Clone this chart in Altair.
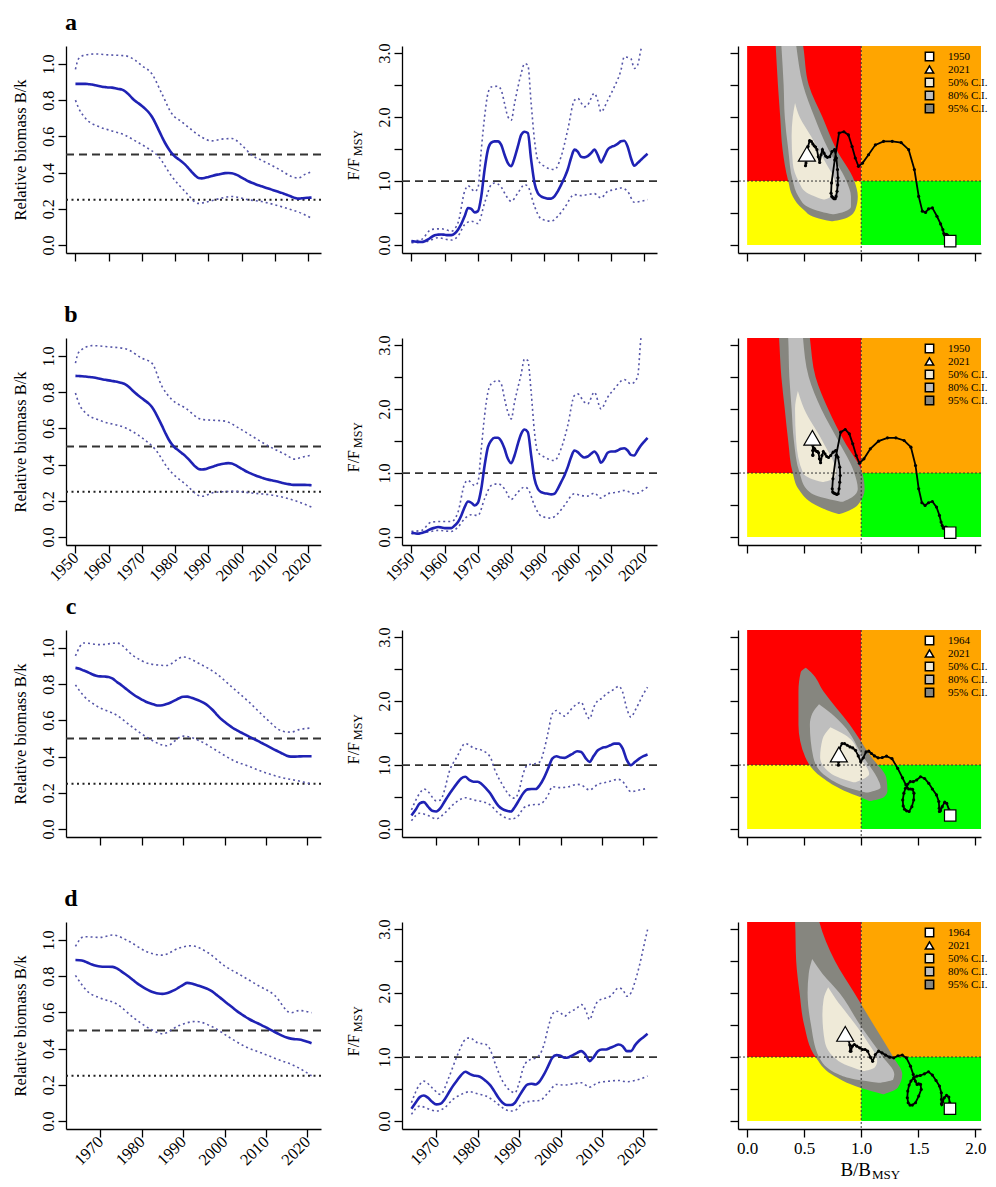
import altair as alt
import pandas as pd

FONT = "Liberation Serif"
BLUE = "#1f22b4"
CI_BLUE = "#5656a8"

PANEL_LETTERS = ["a", "b", "c", "d"]
Y_TITLE = "Relative biomass B/k"
F_TITLE = ["F/F", "MSY"]
KOBE_TITLE = ["B/B", "MSY"]
CI_KEYS = ["50% C.I.", "80% C.I.", "95% C.I."]
CI_FILLS = ["#efead8", "#bebebe", "#86867f"]
LAST_YEAR = 2021
START_YEARS = [1950, 1950, 1964, 1964]
B_LIMITS = [0.5, 0.25]
F_LIMIT = 1.0
KOBE_REF = 1.0
BMSY_OVER_K = 0.5

AB_YEAR_TICKS = [1950, 1960, 1970, 1980, 1990, 2000, 2010, 2020]
CD_YEAR_TICKS = [1970, 1980, 1990, 2000, 2010, 2020]
BK_TICKS = [0.0, 0.2, 0.4, 0.6, 0.8, 1.0]
F_TICKS = [0.0, 0.5, 1.0, 1.5, 2.0, 2.5, 3.0]
KOBE_X_TICKS = [0.0, 0.5, 1.0, 1.5, 2.0]

# Kobe quadrants
QUAD_X0 = [0, 1, 0, 1]
QUAD_X1 = [1, 9, 1, 9]
QUAD_Y0 = [1, 1, 0, 0]
QUAD_Y1 = [9, 9, 1, 1]
QUAD_COLORS = ["#ff0000", "#ffa500", "#ffff00", "#00ff00"]

# ---------------- row a ----------------
A_BK = [0.890, 0.890, 0.890, 0.890, 0.888, 0.886, 0.882, 0.878, 0.874, 0.872,
        0.870, 0.869, 0.866, 0.862, 0.858, 0.848, 0.832, 0.812, 0.795, 0.782,
        0.768, 0.752, 0.733, 0.708, 0.675, 0.636, 0.598, 0.562, 0.532, 0.506,
        0.488, 0.474, 0.460, 0.444, 0.424, 0.403, 0.384, 0.370, 0.368, 0.371,
        0.376, 0.381, 0.386, 0.390, 0.394, 0.397, 0.398, 0.396, 0.391, 0.383,
        0.372, 0.362, 0.352, 0.344, 0.337, 0.330, 0.324, 0.318, 0.312, 0.306,
        0.300, 0.294, 0.288, 0.281, 0.274, 0.267, 0.260, 0.256, 0.258, 0.260,
        0.261, 0.262]
A_F = [0.062, 0.055, 0.050, 0.047, 0.060, 0.088, 0.125, 0.155, 0.163, 0.166,
       0.160, 0.155, 0.155, 0.180, 0.240, 0.330, 0.450, 0.580, 0.565, 0.510,
       0.530, 0.760, 1.180, 1.490, 1.600, 1.620, 1.620, 1.565, 1.410, 1.280,
       1.230, 1.360, 1.540, 1.720, 1.770, 1.750, 1.330, 0.970, 0.810, 0.760,
       0.740, 0.725, 0.725, 0.760, 0.840, 0.940, 1.050, 1.180, 1.360, 1.490,
       1.460, 1.380, 1.370, 1.390, 1.435, 1.490, 1.410, 1.290, 1.380, 1.490,
       1.530, 1.550, 1.580, 1.620, 1.630, 1.540, 1.360, 1.240, 1.280, 1.330,
       1.380, 1.425]
A_BK_HI = [(1950, 0.97), (1951, 1.03), (1953, 1.05), (1956, 1.055), (1960, 1.05), (1965, 1.045),
           (1968, 1.02), (1970, 0.99), (1973, 0.945), (1976, 0.835), (1979, 0.725), (1982, 0.68),
           (1985, 0.635), (1988, 0.595), (1991, 0.575), (1994, 0.585), (1997, 0.588), (2000, 0.552),
           (2003, 0.496), (2006, 0.468), (2009, 0.44), (2012, 0.41), (2015, 0.378), (2017, 0.37),
           (2019, 0.39), (2021, 0.405)]
A_BK_LO = [(1950, 0.80), (1951, 0.755), (1953, 0.70), (1957, 0.654), (1961, 0.63), (1965, 0.606),
           (1968, 0.575), (1971, 0.543), (1975, 0.488), (1979, 0.378), (1983, 0.295), (1987, 0.23),
           (1990, 0.24), (1993, 0.255), (1997, 0.268), (2002, 0.25), (2006, 0.24), (2010, 0.222),
           (2014, 0.20), (2018, 0.175), (2021, 0.148)]
A_F_HI = [(1950, 0.062), (1953, 0.088), (1956, 0.244), (1959, 0.254), (1962, 0.218), (1964, 0.347),
          (1966, 0.839), (1967, 0.927), (1969, 0.839), (1970, 0.891), (1971, 1.487), (1972, 2.005),
          (1973, 2.368), (1974, 2.47), (1976, 2.48), (1977, 2.42), (1978, 2.21), (1979, 2.005),
          (1980, 1.95), (1981, 2.21), (1983, 2.68), (1984, 2.834), (1985, 2.81), (1986, 2.21),
          (1987, 1.64), (1988, 1.33), (1990, 1.23), (1993, 1.18), (1995, 1.38), (1997, 1.80),
          (1999, 2.26), (2000, 2.29), (2002, 2.16), (2003, 2.19), (2005, 2.37), (2006, 2.26),
          (2007, 2.08), (2009, 2.26), (2011, 2.47), (2013, 2.73), (2014, 2.94), (2016, 2.91),
          (2017, 2.76), (2018, 2.81), (2019, 3.05), (2020, 3.2), (2021, 3.15)]
A_F_LO = [(1950, 0.036), (1955, 0.062), (1958, 0.114), (1962, 0.078), (1964, 0.14), (1966, 0.32),
          (1968, 0.373), (1970, 0.337), (1972, 0.658), (1974, 0.943), (1975, 0.969), (1977, 0.907),
          (1978, 0.813), (1980, 0.684), (1982, 0.813), (1984, 0.943), (1985, 0.917), (1987, 0.606),
          (1989, 0.409), (1992, 0.373), (1994, 0.45), (1996, 0.58), (1999, 0.788), (2001, 0.772),
          (2003, 0.788), (2005, 0.803), (2007, 0.736), (2009, 0.839), (2011, 0.865), (2013, 0.891),
          (2015, 0.839), (2017, 0.668), (2019, 0.684), (2021, 0.71)]
# Kobe contours: (F/Fmsy, B/Bmsy left, B/Bmsy right)
A_C95 = [(3.4, 0.24, 0.46), (3.12, 0.25, 0.49), (2.5, 0.27, 0.54), (2.0, 0.29, 0.66), (1.5, 0.31, 0.78),
         (1.0, 0.36, 0.94), (0.76, 0.40, 0.97), (0.56, 0.49, 0.95), (0.43, 0.60, 0.88), (0.37, 0.74, 0.75)]
A_C80 = [(3.4, 0.29, 0.41), (3.12, 0.30, 0.43), (2.5, 0.32, 0.49), (2.0, 0.33, 0.59), (1.5, 0.36, 0.71),
         (1.0, 0.40, 0.87), (0.76, 0.45, 0.91), (0.6, 0.53, 0.91), (0.52, 0.65, 0.85), (0.48, 0.75, 0.76)]
A_C50 = [(2.22, 0.42, 0.42), (2.0, 0.40, 0.46), (1.7, 0.39, 0.56), (1.28, 0.40, 0.69), (1.0, 0.45, 0.77),
         (0.82, 0.52, 0.78), (0.74, 0.62, 0.72), (0.71, 0.67, 0.68)]

# ---------------- row b ----------------
B_BK = [0.890, 0.889, 0.888, 0.886, 0.884, 0.882, 0.879, 0.875, 0.871, 0.868,
        0.865, 0.862, 0.859, 0.855, 0.850, 0.843, 0.830, 0.812, 0.795, 0.780,
        0.766, 0.752, 0.738, 0.718, 0.688, 0.652, 0.615, 0.576, 0.540, 0.512,
        0.492, 0.478, 0.463, 0.448, 0.430, 0.410, 0.390, 0.376, 0.373, 0.375,
        0.381, 0.387, 0.393, 0.399, 0.403, 0.406, 0.408, 0.406, 0.398, 0.388,
        0.377, 0.366, 0.357, 0.349, 0.341, 0.334, 0.328, 0.322, 0.317, 0.313,
        0.309, 0.305, 0.300, 0.296, 0.292, 0.289, 0.288, 0.288, 0.288, 0.288,
        0.287, 0.286]
B_F = [0.068, 0.060, 0.052, 0.065, 0.078, 0.105, 0.130, 0.145, 0.156, 0.150,
       0.140, 0.140, 0.140, 0.180, 0.234, 0.338, 0.468, 0.556, 0.536, 0.494,
       0.536, 0.754, 1.118, 1.404, 1.508, 1.550, 1.550, 1.498, 1.378, 1.222,
       1.154, 1.274, 1.456, 1.612, 1.680, 1.638, 1.274, 0.910, 0.754, 0.702,
       0.686, 0.676, 0.666, 0.676, 0.754, 0.858, 0.962, 1.092, 1.248, 1.352,
       1.326, 1.274, 1.243, 1.258, 1.300, 1.336, 1.274, 1.160, 1.222, 1.316,
       1.336, 1.336, 1.352, 1.378, 1.388, 1.352, 1.284, 1.274, 1.352, 1.430,
       1.492, 1.550]
B_BK_HI = [(1950, 0.96), (1951, 1.02), (1955, 1.057), (1960, 1.05), (1965, 1.04), (1970, 0.987),
           (1973, 0.96), (1976, 0.832), (1979, 0.759), (1983, 0.713), (1988, 0.649), (1991, 0.645),
           (1995, 0.64), (1999, 0.603), (2003, 0.558), (2008, 0.503), (2013, 0.457), (2016, 0.43),
           (2018, 0.44), (2021, 0.452)]
B_BK_LO = [(1950, 0.795), (1951, 0.74), (1953, 0.686), (1958, 0.64), (1965, 0.603), (1970, 0.548),
           (1974, 0.484), (1978, 0.375), (1983, 0.293), (1988, 0.225), (1992, 0.247), (1998, 0.252),
           (2003, 0.243), (2010, 0.229), (2016, 0.201), (2021, 0.165)]
B_F_HI = [(1950, 0.088), (1953, 0.104), (1956, 0.234), (1959, 0.244), (1962, 0.244), (1964, 0.39),
          (1966, 0.832), (1967, 0.884), (1969, 0.806), (1970, 0.858), (1971, 1.378), (1972, 1.898),
          (1973, 2.262), (1974, 2.392), (1976, 2.444), (1977, 2.392), (1978, 2.158), (1979, 1.95),
          (1980, 1.846), (1981, 2.106), (1983, 2.548), (1984, 2.782), (1985, 2.756), (1986, 2.262),
          (1987, 1.638), (1988, 1.326), (1990, 1.248), (1993, 1.196), (1995, 1.378), (1997, 1.742),
          (1999, 2.21), (2000, 2.236), (2002, 2.106), (2003, 2.08), (2005, 2.262), (2007, 2.002),
          (2009, 2.184), (2011, 2.314), (2014, 2.46), (2016, 2.392), (2018, 2.5), (2019, 3.1),
          (2020, 3.3), (2021, 3.3)]
B_F_LO = [(1950, 0.052), (1955, 0.078), (1958, 0.104), (1962, 0.088), (1964, 0.156), (1966, 0.286),
          (1968, 0.348), (1970, 0.338), (1972, 0.598), (1974, 0.806), (1976, 0.832), (1978, 0.754),
          (1980, 0.588), (1982, 0.702), (1984, 0.78), (1985, 0.754), (1987, 0.494), (1989, 0.328),
          (1992, 0.296), (1994, 0.364), (1996, 0.494), (1999, 0.676), (2001, 0.65), (2003, 0.64),
          (2005, 0.686), (2007, 0.608), (2009, 0.676), (2012, 0.702), (2014, 0.728), (2017, 0.676),
          (2021, 0.78)]
B_C95 = [(3.4, 0.27, 0.53), (3.11, 0.28, 0.55), (2.5, 0.30, 0.60), (2.0, 0.33, 0.71), (1.5, 0.36, 0.85),
         (1.0, 0.40, 1.01), (0.75, 0.45, 1.03), (0.5, 0.60, 0.97), (0.42, 0.70, 0.90), (0.36, 0.80, 0.81)]
B_C80 = [(3.4, 0.35, 0.48), (3.11, 0.36, 0.49), (2.5, 0.37, 0.54), (2.0, 0.39, 0.65), (1.5, 0.41, 0.80),
         (1.0, 0.46, 0.94), (0.75, 0.52, 0.97), (0.62, 0.65, 0.92), (0.55, 0.82, 0.84)]
B_C50 = [(2.28, 0.445, 0.445), (2.0, 0.42, 0.50), (1.5, 0.43, 0.66), (1.0, 0.49, 0.78),
         (0.92, 0.55, 0.76), (0.86, 0.66, 0.67)]

# ---------------- row c ----------------
C_BK = [0.890, 0.885, 0.875, 0.866, 0.855, 0.847, 0.843, 0.842, 0.840, 0.830,
        0.812, 0.796, 0.778, 0.760, 0.743, 0.728, 0.715, 0.703, 0.694, 0.687,
        0.682, 0.684, 0.690, 0.699, 0.710, 0.722, 0.730, 0.731, 0.725, 0.717,
        0.708, 0.696, 0.681, 0.660, 0.635, 0.611, 0.592, 0.574, 0.558, 0.545,
        0.533, 0.521, 0.509, 0.498, 0.487, 0.475, 0.463, 0.451, 0.439, 0.427,
        0.416, 0.405, 0.400, 0.400, 0.401, 0.402, 0.402, 0.402]
C_F = [0.212, 0.300, 0.400, 0.420, 0.350, 0.285, 0.274, 0.326, 0.430, 0.533,
       0.626, 0.714, 0.790, 0.817, 0.766, 0.740, 0.740, 0.700, 0.636, 0.560,
       0.455, 0.362, 0.310, 0.285, 0.274, 0.350, 0.455, 0.560, 0.620, 0.626,
       0.626, 0.688, 0.800, 0.947, 1.100, 1.138, 1.117, 1.112, 1.143, 1.180,
       1.216, 1.205, 1.112, 1.050, 1.143, 1.230, 1.267, 1.283, 1.309, 1.335,
       1.335, 1.257, 1.076, 0.998, 1.050, 1.100, 1.138, 1.164]
C_BK_HI = [(1964, 0.956), (1966, 1.027), (1970, 1.018), (1974, 1.027), (1978, 0.956), (1982, 0.912),
           (1986, 0.903), (1990, 0.95), (1994, 0.912), (1998, 0.858), (2002, 0.779), (2006, 0.699),
           (2010, 0.611), (2014, 0.54), (2016, 0.535), (2018, 0.549), (2021, 0.558)]
C_BK_LO = [(1964, 0.796), (1966, 0.735), (1969, 0.681), (1974, 0.628), (1978, 0.558), (1982, 0.496),
           (1986, 0.46), (1990, 0.513), (1994, 0.487), (1998, 0.434), (2002, 0.38), (2006, 0.345),
           (2010, 0.31), (2014, 0.283), (2018, 0.265), (2021, 0.248)]
C_F_HI = [(1964, 0.30), (1966, 0.559), (1967, 0.626), (1968, 0.585), (1970, 0.44), (1971, 0.455),
          (1972, 0.61), (1973, 0.869), (1975, 1.128), (1977, 1.335), (1979, 1.267), (1981, 1.23),
          (1983, 1.128), (1984, 0.947), (1986, 0.688), (1988, 0.507), (1989, 0.481), (1990, 0.61),
          (1991, 0.869), (1992, 0.998), (1994, 1.024), (1995, 1.05), (1996, 1.23), (1997, 1.516),
          (1998, 1.80), (1999, 1.852), (2000, 1.80), (2001, 1.764), (2002, 1.826), (2003, 1.904),
          (2004, 1.955), (2005, 1.98), (2006, 1.826), (2007, 1.723), (2008, 1.904), (2009, 2.007),
          (2010, 2.043), (2011, 2.11), (2012, 2.147), (2013, 2.188), (2014, 2.23), (2015, 2.136),
          (2016, 1.878), (2017, 1.749), (2018, 1.852), (2019, 1.98), (2020, 2.11), (2021, 2.214)]
C_F_LO = [(1964, 0.129), (1966, 0.248), (1968, 0.212), (1970, 0.16), (1972, 0.248), (1974, 0.378),
          (1976, 0.47), (1977, 0.49), (1979, 0.455), (1981, 0.43), (1983, 0.378), (1985, 0.248),
          (1987, 0.17), (1988, 0.155), (1990, 0.222), (1991, 0.326), (1993, 0.378), (1995, 0.388),
          (1997, 0.533), (1998, 0.662), (2000, 0.647), (2002, 0.662), (2004, 0.698), (2005, 0.688),
          (2007, 0.61), (2009, 0.698), (2011, 0.73), (2014, 0.776), (2015, 0.74), (2017, 0.585),
          (2019, 0.61), (2021, 0.636)]
C_C95 = [(2.52, 0.515, 0.515), (2.45, 0.47, 0.56), (2.15, 0.45, 0.67), (1.63, 0.45, 0.90), (1.12, 0.51, 1.09),
         (0.80, 0.66, 1.22), (0.6, 0.85, 1.23), (0.5, 0.99, 1.20), (0.44, 1.07, 1.09)]
C_C80 = [(1.95, 0.63, 0.63), (1.8, 0.57, 0.74), (1.63, 0.55, 0.84), (1.12, 0.58, 1.02), (0.8, 0.71, 1.14),
         (0.65, 0.88, 1.17), (0.57, 1.04, 1.06)]
C_C50 = [(1.59, 0.73, 0.73), (1.4, 0.66, 0.91), (1.12, 0.64, 0.99), (0.86, 0.74, 1.07), (0.73, 0.93, 0.95)]

# ---------------- row d ----------------
D_BK = [0.889, 0.888, 0.884, 0.874, 0.864, 0.857, 0.853, 0.852, 0.852, 0.851,
        0.843, 0.828, 0.812, 0.795, 0.777, 0.759, 0.744, 0.730, 0.718, 0.710,
        0.704, 0.702, 0.706, 0.714, 0.724, 0.738, 0.752, 0.763, 0.760, 0.752,
        0.745, 0.737, 0.728, 0.716, 0.698, 0.680, 0.661, 0.643, 0.625, 0.607,
        0.591, 0.576, 0.562, 0.550, 0.540, 0.528, 0.517, 0.505, 0.493, 0.481,
        0.470, 0.461, 0.455, 0.452, 0.450, 0.445, 0.438, 0.430]
D_F = [0.192, 0.286, 0.374, 0.400, 0.364, 0.300, 0.260, 0.270, 0.338, 0.442,
       0.546, 0.634, 0.718, 0.770, 0.738, 0.712, 0.702, 0.676, 0.624, 0.562,
       0.468, 0.364, 0.286, 0.250, 0.250, 0.286, 0.390, 0.494, 0.572, 0.582,
       0.572, 0.624, 0.728, 0.858, 0.988, 1.030, 1.020, 0.988, 0.998, 1.030,
       1.066, 1.092, 1.040, 0.936, 0.998, 1.092, 1.118, 1.118, 1.144, 1.170,
       1.196, 1.170, 1.092, 1.092, 1.186, 1.258, 1.310, 1.362]
D_BK_HI = [(1964, 0.964), (1966, 1.018), (1970, 1.014), (1973, 1.027), (1977, 0.991), (1981, 0.9375),
           (1985, 0.916), (1989, 0.955), (1992, 0.968), (1996, 0.929), (2000, 0.857), (2004, 0.804),
           (2008, 0.75), (2012, 0.696), (2016, 0.598), (2018, 0.61), (2021, 0.598)]
D_BK_LO = [(1964, 0.804), (1967, 0.714), (1970, 0.679), (1974, 0.646), (1978, 0.571), (1982, 0.509),
           (1985, 0.482), (1989, 0.527), (1993, 0.55), (1997, 0.521), (2001, 0.464), (2005, 0.411),
           (2009, 0.375), (2013, 0.339), (2017, 0.304), (2021, 0.25)]
D_F_HI = [(1964, 0.286), (1966, 0.572), (1967, 0.624), (1969, 0.52), (1971, 0.416), (1973, 0.676),
          (1975, 1.014), (1977, 1.274), (1978, 1.30), (1980, 1.222), (1982, 1.196), (1983, 1.118),
          (1984, 0.936), (1986, 0.624), (1988, 0.468), (1989, 0.442), (1990, 0.598), (1991, 0.832),
          (1992, 0.936), (1994, 0.988), (1995, 1.04), (1996, 1.196), (1997, 1.456), (1998, 1.664),
          (1999, 1.716), (2000, 1.69), (2001, 1.638), (2002, 1.69), (2004, 1.768), (2005, 1.82),
          (2006, 1.742), (2007, 1.586), (2008, 1.742), (2009, 1.872), (2011, 1.924), (2012, 1.95),
          (2014, 2.08), (2015, 2.054), (2016, 1.95), (2017, 2.002), (2018, 2.184), (2019, 2.418),
          (2020, 2.704), (2021, 2.99)]
D_F_LO = [(1964, 0.104), (1966, 0.234), (1968, 0.192), (1970, 0.156), (1972, 0.208), (1974, 0.338),
          (1976, 0.416), (1978, 0.458), (1980, 0.426), (1982, 0.39), (1984, 0.312), (1986, 0.208),
          (1988, 0.156), (1989, 0.166), (1991, 0.286), (1993, 0.312), (1995, 0.322), (1997, 0.442),
          (1999, 0.572), (2001, 0.562), (2003, 0.582), (2005, 0.598), (2007, 0.53), (2009, 0.598),
          (2012, 0.624), (2014, 0.634), (2016, 0.614), (2018, 0.634), (2021, 0.702)]
D_C95 = [(3.4, 0.41, 0.60), (3.13, 0.42, 0.63), (2.5, 0.43, 0.77), (2.0, 0.46, 0.94), (1.5, 0.50, 1.11),
         (1.0, 0.60, 1.28), (0.73, 0.74, 1.36), (0.52, 0.99, 1.32), (0.42, 1.19, 1.20)]
D_C80 = [(2.53, 0.57, 0.57), (2.3, 0.54, 0.66), (2.0, 0.53, 0.81), (1.5, 0.56, 0.99), (1.0, 0.63, 1.19),
         (0.73, 0.80, 1.29), (0.65, 0.95, 1.28), (0.6, 1.15, 1.17)]
D_C50 = [(2.09, 0.71, 0.71), (1.9, 0.67, 0.78), (1.67, 0.66, 0.88), (1.25, 0.68, 1.05), (0.94, 0.80, 1.14),
         (0.84, 0.92, 1.12), (0.78, 1.02, 1.03)]

ROWS = [
    dict(letter=PANEL_LETTERS[0], start=START_YEARS[0], bk=A_BK, f=A_F, bk_hi=A_BK_HI, bk_lo=A_BK_LO,
         f_hi=A_F_HI, f_lo=A_F_LO, c95=A_C95, c80=A_C80, c50=A_C50, ticks=AB_YEAR_TICKS,
         xdom=[1947.16, 2023.84], labels=False, kobe_labels=False),
    dict(letter=PANEL_LETTERS[1], start=START_YEARS[1], bk=B_BK, f=B_F, bk_hi=B_BK_HI, bk_lo=B_BK_LO,
         f_hi=B_F_HI, f_lo=B_F_LO, c95=B_C95, c80=B_C80, c50=B_C50, ticks=AB_YEAR_TICKS,
         xdom=[1947.16, 2023.84], labels=True, kobe_labels=False),
    dict(letter=PANEL_LETTERS[2], start=START_YEARS[2], bk=C_BK, f=C_F, bk_hi=C_BK_HI, bk_lo=C_BK_LO,
         f_hi=C_F_HI, f_lo=C_F_LO, c95=C_C95, c80=C_C80, c50=C_C50, ticks=CD_YEAR_TICKS,
         xdom=[1961.72, 2023.28], labels=False, kobe_labels=False),
    dict(letter=PANEL_LETTERS[3], start=START_YEARS[3], bk=D_BK, f=D_F, bk_hi=D_BK_HI, bk_lo=D_BK_LO,
         f_hi=D_F_HI, f_lo=D_F_LO, c95=D_C95, c80=D_C80, c50=D_C50, ticks=CD_YEAR_TICKS,
         xdom=[1961.72, 2023.28], labels=True, kobe_labels=True),
]

W1 = 255
W3 = 243
H = 207


def series_df(start, vals):
    return pd.DataFrame({"year": list(range(start, start + len(vals))), "v": vals})


def pairs_df(pairs):
    return pd.DataFrame(pairs, columns=["year", "v"])


def year_axis(r):
    return alt.Axis(values=r["ticks"], format="d", labels=r["labels"], labelAngle=315,
                    labelAlign="right", labelBaseline="middle", labelPadding=2,
                    labelFontSize=16.5, title=None, labelOverlap=False, labelFlush=False)


def text_layer(txt, x, y, size, **kw):
    return alt.Chart(pd.DataFrame({"t": [txt]})).mark_text(
        font=FONT, fontSize=size, color="black", **kw
    ).encode(text="t:N", x=alt.value(x), y=alt.value(y))


def bk_panel(r):
    xs = alt.Scale(domain=r["xdom"], nice=False, zero=False)
    ys = alt.Scale(domain=[-0.044, 1.099], nice=False, zero=False)
    yax = alt.Axis(values=BK_TICKS, format=".1f", labelAngle=270, labelAlign="center",
                   labelBaseline="bottom", labelPadding=2, labelFontSize=16, title=Y_TITLE,
                   titleFontSize=16.5, titleFontWeight="normal", titlePadding=12,
                   labelOverlap=False, labelFlush=False)
    X = alt.X("year:Q", scale=xs, axis=year_axis(r))
    Y = alt.Y("v:Q", scale=ys, axis=yax)
    med = alt.Chart(series_df(r["start"], r["bk"])).mark_line(
        color=BLUE, strokeWidth=2.6, interpolate="monotone").encode(x=X, y=Y)
    hi = alt.Chart(pairs_df(r["bk_hi"])).mark_line(
        color=CI_BLUE, strokeWidth=1.6, strokeDash=[2, 3], interpolate="monotone", clip=True).encode(x=X, y=Y)
    lo = alt.Chart(pairs_df(r["bk_lo"])).mark_line(
        color=CI_BLUE, strokeWidth=1.6, strokeDash=[2, 3], interpolate="monotone", clip=True).encode(x=X, y=Y)
    r1 = alt.Chart(pd.DataFrame({"v": [B_LIMITS[0]]})).mark_rule(
        color="#333333", strokeWidth=1.8, strokeDash=[8, 5]).encode(y=Y)
    r2 = alt.Chart(pd.DataFrame({"v": [B_LIMITS[1]]})).mark_rule(
        color="#222222", strokeWidth=2, strokeDash=[2, 3.5]).encode(y=Y)
    letter = text_layer(r["letter"], 5, -16, 24, fontWeight="bold", align="center", baseline="alphabetic")
    return alt.layer(r1, r2, lo, hi, med, letter).properties(width=W1, height=H)


def f_panel(r):
    xs = alt.Scale(domain=r["xdom"], nice=False, zero=False)
    ys = alt.Scale(domain=[-0.124, 3.109], nice=False, zero=False)
    yax = alt.Axis(values=F_TICKS, labelExpr="datum.value % 1 == 0 ? format(datum.value, '.1f') : ''",
                   labelAngle=270, labelAlign="center", labelBaseline="bottom", labelPadding=2,
                   labelFontSize=16, title=None, labelOverlap=False, labelFlush=False)
    X = alt.X("year:Q", scale=xs, axis=year_axis(r))
    Y = alt.Y("v:Q", scale=ys, axis=yax)
    med = alt.Chart(series_df(r["start"], r["f"])).mark_line(
        color=BLUE, strokeWidth=2.6, interpolate="monotone", clip=True).encode(x=X, y=Y)
    hi = alt.Chart(pairs_df(r["f_hi"])).mark_line(
        color=CI_BLUE, strokeWidth=1.6, strokeDash=[2, 3], interpolate="monotone", clip=True).encode(x=X, y=Y)
    lo = alt.Chart(pairs_df(r["f_lo"])).mark_line(
        color=CI_BLUE, strokeWidth=1.6, strokeDash=[2, 3], interpolate="monotone", clip=True).encode(x=X, y=Y)
    ref = alt.Chart(pd.DataFrame({"v": [F_LIMIT]})).mark_rule(
        color="#333333", strokeWidth=1.8, strokeDash=[8, 5]).encode(y=Y)
    t1 = text_layer(F_TITLE[0], -48, 112, 16, angle=270, align="right", baseline="middle")
    t2 = text_layer(F_TITLE[1], -44, 110, 12, angle=270, align="left", baseline="middle")
    return alt.layer(ref, lo, hi, med, t1, t2).properties(width=W1, height=H)


def kobe_panel(r):
    keys = [str(r["start"]), str(LAST_YEAR)] + CI_KEYS
    fill_scale = alt.Scale(domain=keys, range=["white", "white"] + CI_FILLS)
    shape_scale = alt.Scale(domain=keys, range=["square", "triangle-up", "square", "square", "square"])
    leg = alt.Legend(title=None, orient="none", legendX=186, legendY=5, labelFont=FONT,
                     labelFontSize=11, labelColor="black", symbolSize=70,
                     labelOffset=13, rowPadding=-2, padding=0, symbolOpacity=1)
    xs = alt.Scale(domain=[-0.08, 2.05], nice=False, zero=False)
    ys = alt.Scale(domain=[-0.124, 3.109], nice=False, zero=False)
    xax = alt.Axis(values=KOBE_X_TICKS, format=".1f", labels=r["kobe_labels"], labelAngle=0,
                   labelFontSize=17, labelPadding=3, title=None, labelFlush=False, labelOverlap=False)
    yax = alt.Axis(values=F_TICKS, labels=False, title=None)

    quad = pd.DataFrame({"x0": QUAD_X0, "x1": QUAD_X1, "y0": QUAD_Y0, "y1": QUAD_Y1, "c": QUAD_COLORS})
    rect = alt.Chart(quad).mark_rect(clip=True).encode(
        x=alt.X("x0:Q", scale=xs, axis=xax), x2="x1:Q",
        y=alt.Y("y0:Q", scale=ys, axis=yax), y2="y1:Q",
        color=alt.Color("c:N", scale=None))

    def contour(tri, colour):
        df = pd.DataFrame(tri, columns=["F", "lo", "hi"]).sort_values("F")
        return alt.Chart(df).mark_area(orient="horizontal", interpolate="monotone", clip=True,
                                       opacity=1, fill=colour).encode(
            y=alt.Y("F:Q", scale=ys, axis=yax),
            x=alt.X("lo:Q", scale=xs, axis=xax, stack=False), x2="hi:Q")

    c95 = contour(r["c95"], CI_FILLS[2])
    c80 = contour(r["c80"], CI_FILLS[1])
    c50 = contour(r["c50"], CI_FILLS[0])

    vr = alt.Chart(pd.DataFrame({"kx": [KOBE_REF]})).mark_rule(
        color="#333333", strokeWidth=1, strokeDash=[2, 2]).encode(x=alt.X("kx:Q", scale=xs, axis=xax))
    hr = alt.Chart(pd.DataFrame({"F": [KOBE_REF]})).mark_rule(
        color="#333333", strokeWidth=1, strokeDash=[2, 2]).encode(y=alt.Y("F:Q", scale=ys, axis=yax))

    years = list(range(r["start"], r["start"] + len(r["bk"])))
    traj = pd.DataFrame({"year": years, "kx": [b / BMSY_OVER_K for b in r["bk"]], "F": r["f"]})
    X = alt.X("kx:Q", scale=xs, axis=xax)
    Y = alt.Y("F:Q", scale=ys, axis=yax)
    line = alt.Chart(traj).mark_line(
        color="black", strokeWidth=1.8, clip=True,
        point=alt.OverlayMarkDef(filled=True, size=10, color="black", clip=True)
    ).encode(x=X, y=Y, order="year:Q")

    start = traj.iloc[[0]].assign(key=keys[0])
    end = traj.iloc[[-1]].assign(key=keys[1])
    p_start = alt.Chart(start).mark_point(filled=True, stroke="black", strokeWidth=1.2, size=130, opacity=1).encode(
        x=X, y=Y, fill=alt.Fill("key:N", scale=fill_scale, legend=leg),
        shape=alt.Shape("key:N", scale=shape_scale, legend=leg))
    p_end = alt.Chart(end).mark_point(filled=True, stroke="black", strokeWidth=1.2, size=290, opacity=1).encode(
        x=X, y=Y, fill=alt.Fill("key:N", scale=fill_scale, legend=leg),
        shape=alt.Shape("key:N", scale=shape_scale, legend=leg))

    layers = [rect, c95, c80, c50, vr, hr, line, p_start, p_end]
    if r["kobe_labels"]:
        layers.append(text_layer(KOBE_TITLE[0], 133, H + 47, 19, align="right", baseline="alphabetic"))
        layers.append(text_layer(KOBE_TITLE[1], 134, H + 50, 13, align="left", baseline="alphabetic"))
    return alt.layer(*layers).properties(width=W3, height=H)


panels = []
for r in ROWS:
    panels += [bk_panel(r), f_panel(r), kobe_panel(r)]

chart = alt.concat(*panels, columns=3, spacing={"row": 85, "column": 81}, bounds="flush").resolve_scale(
    fill="independent", shape="independent").resolve_legend(fill="independent", shape="independent")
chart = chart.properties(padding={"left": 3, "top": 3, "right": 0, "bottom": 0}, background="white")
chart = chart.configure(font=FONT).configure_view(stroke=None).configure_axis(
    domainColor="black", tickColor="black", labelColor="black", titleColor="black",
    domainWidth=1.3, tickWidth=1.3, tickSize=8, grid=False, labelFont=FONT, titleFont=FONT,
    titleFontWeight="normal")

chart.save("out.html", embed_options={"renderer": "svg", "actions": False})
